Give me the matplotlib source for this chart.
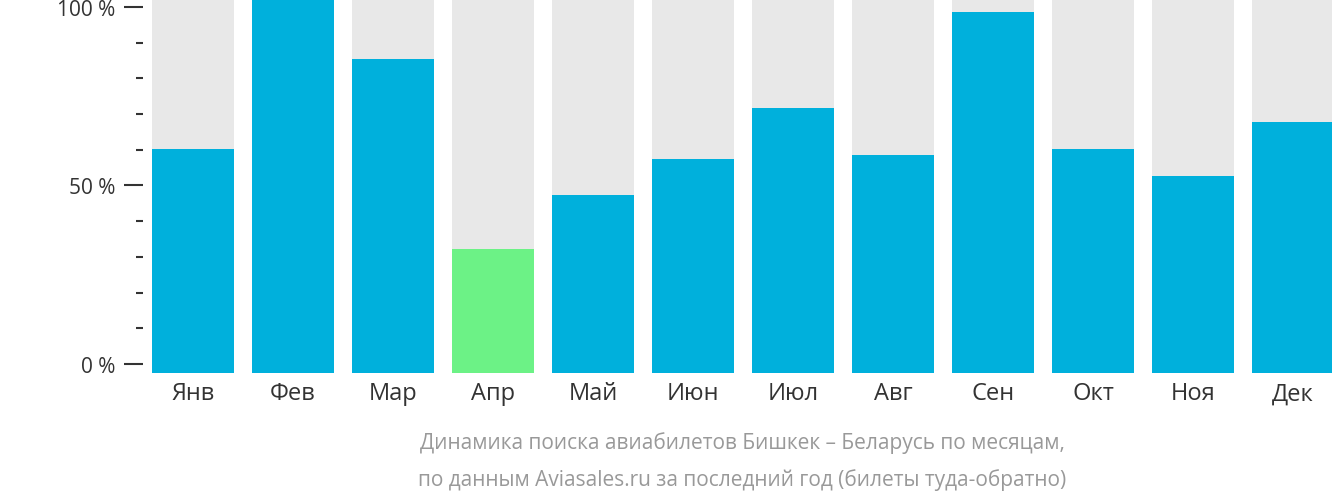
import matplotlib
matplotlib.use("Agg")
import matplotlib.pyplot as plt

months = ["Янв","Фев","Мар","Апр","Май","Июн","Июл","Авг","Сен","Окт","Ноя","Дек"]
values = [60.2, 102.2, 85.4, 32.2, 47.3, 57.4, 71.7, 58.5, 98.6, 60.2, 52.7, 67.8]
colors = ["#00b0dc"]*3 + ["#6cf286"] + ["#00b0dc"]*8

plt.rcParams["font.family"] = "Open Sans"
fig = plt.figure(figsize=(13.32, 5.02), dpi=100)
W, H = 1332, 502
ax = fig.add_axes([143/W, (H-374)/H, (W-143)/W, 374/H])
base = -2.5
top = 102.2
x = list(range(len(months)))
ax.bar(x, [top-base]*12, bottom=base, width=0.82, color="#e8e8e8")
ax.bar(x, [v-base for v in values], bottom=base, width=0.82, color=colors)
ax.set_xlim(-0.5, 11.39)
ax.set_ylim(base, top)
for s in ax.spines.values():
    s.set_visible(False)
ax.set_yticks([0, 50, 100])
ax.set_yticklabels(["0 %", "50 %", "100 %"], fontsize=15, color="#333333")
ax.set_yticks([10,20,30,40,60,70,80,90], minor=True)
ax.tick_params(axis="y", which="major", length=14, width=1.5, color="#333333", pad=6)
ax.tick_params(axis="y", which="minor", length=5, width=1.5, color="#333333")
ax.set_xticks(x)
ax.set_xticklabels(months, fontsize=17, color="#333333")
ax.tick_params(axis="x", length=0, pad=6)
fig.text(742/W, 1-443/H, "Динамика поиска авиабилетов Бишкек – Беларусь по месяцам,",
         ha="center", va="center", fontsize=15, color="#999999")
fig.text(742/W, 1-480/H, "по данным Aviasales.ru за последний год (билеты туда-обратно)",
         ha="center", va="center", fontsize=15, color="#999999")
fig.savefig("out.png", dpi=100)
